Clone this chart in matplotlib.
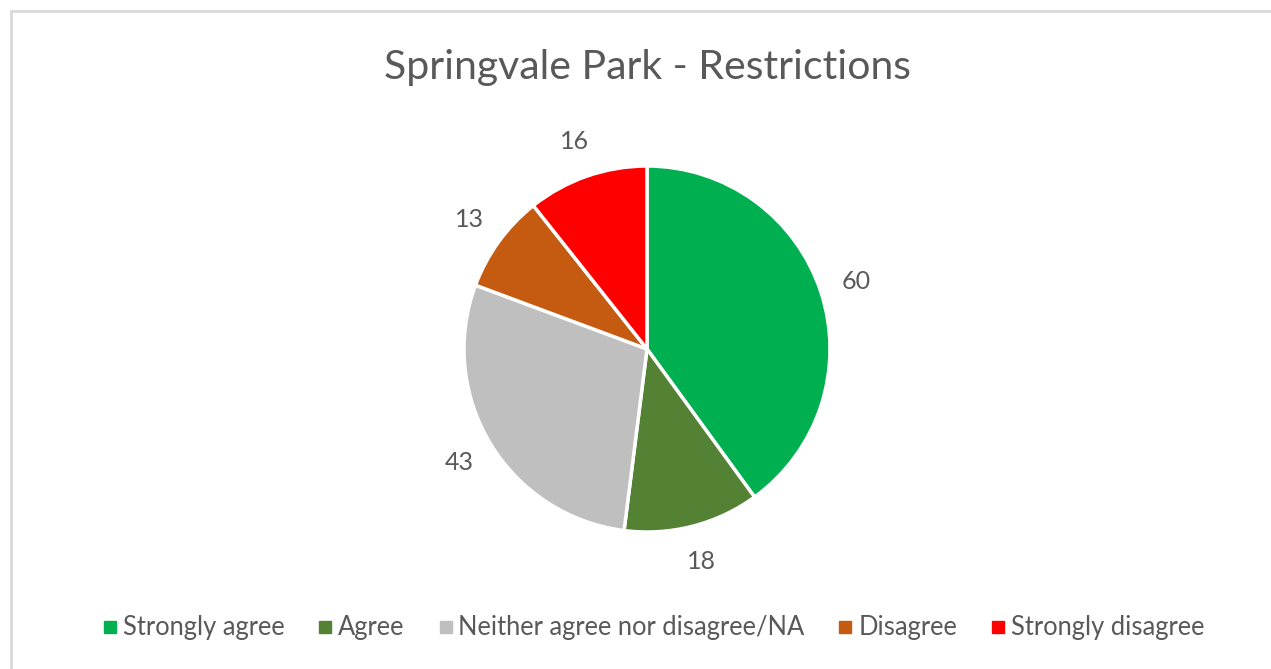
import matplotlib
matplotlib.use("Agg")
import matplotlib.pyplot as plt
from matplotlib.patches import Rectangle
from matplotlib.lines import Line2D

categories = ["Strongly agree", "Agree", "Neither agree nor disagree/NA", "Disagree", "Strongly disagree"]
values = [60, 18, 43, 13, 16]
colors = ["#00B050", "#548235", "#BFBFBF", "#C55A11", "#FF0000"]
title = "Springvale Park - Restrictions"

plt.rcParams['font.family'] = ['Lato', 'DejaVu Sans']
TXT = "#595959"

W, H = 1271, 669
fig = plt.figure(figsize=(W / 100, H / 100), dpi=100)
fig.patch.set_facecolor("white")

# chart border
fig.add_artist(Rectangle((11 / W, -0.05), 1.1, (H - 11) / H + 0.05, transform=fig.transFigure,
                         fill=False, edgecolor="#D9D9D9", linewidth=2))

cx, cy, r = 647, 349, 183
ax = fig.add_axes([(cx - r) / W, (H - cy - r) / H, 2 * r / W, 2 * r / H])
total = sum(values)
wedges, _, autotexts = ax.pie(values, colors=colors, startangle=90, counterclock=False,
                              wedgeprops=dict(edgecolor="white", linewidth=2.5),
                              autopct=lambda p: f"{p * total / 100:.0f}", pctdistance=1.2,
                              textprops=dict(color=TXT, fontsize=18))
ax.set_xlim(-1, 1)
ax.set_ylim(-1, 1)
ax.set_aspect("equal")
ax.axis("off")

fig.text(647 / W, 1 - 67 / H, title, ha="center", va="center", fontsize=29.5, color=TXT)

handles = [Line2D([], [], marker="s", linestyle="none", markersize=8, markerfacecolor=c,
                  markeredgecolor=c) for c in colors]
fig.legend(handles, categories, loc="center", bbox_to_anchor=(652 / W, 1 - 628 / H), ncol=5,
           frameon=False, fontsize=18.4, labelcolor=TXT, handletextpad=0.1, columnspacing=1.2,
           handlelength=0.8)

fig.savefig("out.png", dpi=100, facecolor="white")
